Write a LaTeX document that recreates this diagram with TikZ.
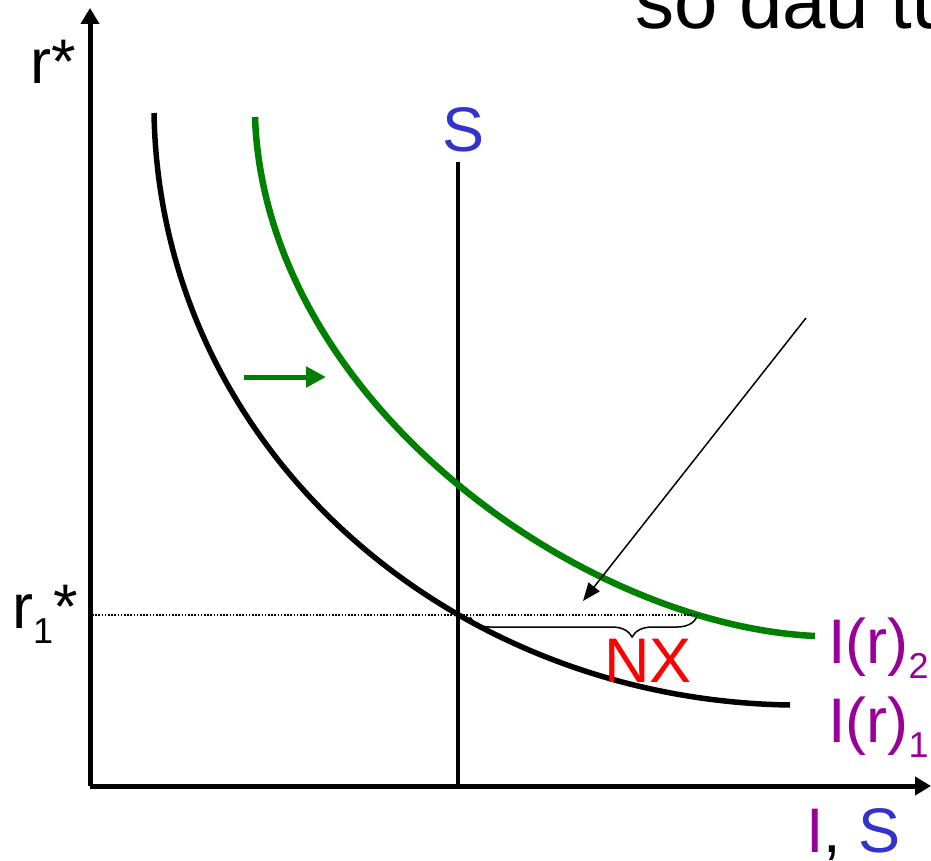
\documentclass[tikz,border=0pt]{standalone}
\usepackage{fontspec}
\setmainfont{Liberation Sans}
\usetikzlibrary{arrows.meta,decorations.pathreplacing}
\definecolor{grn}{RGB}{0,128,0}
\definecolor{purp}{RGB}{153,0,153}
\definecolor{blu}{RGB}{51,51,204}
\newcommand{\sbs}[1]{\raisebox{-15pt}{\fontsize{36}{36}\selectfont #1}}
\begin{document}
\begin{tikzpicture}[x=1pt,y=-1pt,
  lbl/.style={inner sep=0pt,font=\fontsize{63}{63}\selectfont},
  axis/.style={line width=5pt,-{Triangle[length=16pt,width=18pt]}},
  thin/.style={line width=1.5pt}]
\useasboundingbox (0,0) rectangle (931,861);
% axes
\coordinate (O) at (90,786);
\coordinate (ytop) at (90,8);
\coordinate (xend) at (931,786);
\draw[axis] (O) -- (ytop);
\draw[axis] (O) -- (xend);
% S line
\coordinate (Stop) at (458,162);
\coordinate (Sbot) at (458,786);
\draw[line width=4.5pt] (Sbot) -- (Stop);
% curves
\coordinate (c1s) at (154,113);
\coordinate (c1e) at (790,705);
\draw[line width=5.5pt] (c1s) .. controls (160,450) and (450,700) .. (c1e);
\coordinate (c2s) at (255,117);
\coordinate (c2e) at (815,636);
\draw[line width=6.5pt,grn] (c2s) .. controls (265,400) and (580,625) .. (c2e);
% dotted line
\coordinate (d1) at (92,615);
\coordinate (d2) at (697,615);
\draw[line width=1.3pt,dash pattern=on 1.6pt off 1.6pt] (d1) -- (d2);
% brace
\coordinate (b1) at (470,617);
\coordinate (b2) at (697,617);
\draw[thin,decorate,decoration={brace,mirror,amplitude=20pt,aspect=0.714}] (b1) -- (b2);
% green shift arrow
\coordinate (g1) at (244,377);
\coordinate (g2) at (326,377);
\draw[grn,line width=5pt,-{Triangle[length=20pt,width=20pt]}] (g1) -- (g2);
% thin arrow
\coordinate (a1) at (806,318);
\coordinate (a2) at (583,601);
\draw[thin,-{Triangle[length=18pt,width=14pt]}] (a1) -- (a2);
% labels
\node[lbl,anchor=base west] (title) at (635,29) {\fontsize{78}{78}\selectfont so dau tu};
\node[lbl,anchor=base west] (rstar) at (30,84) {r*};
\node[lbl,anchor=base,text=blu] (Slbl) at (464,152) {S};
\node[lbl,anchor=base west] (r1) at (12,628) {r\sbs{1}*};
\node[lbl,anchor=base,text=red] (NX) at (648,682) {NX};
\node[lbl,anchor=base west,text=purp] (I2) at (828,663) {I(r)\sbs{2}};
\node[lbl,anchor=base west,text=purp] (I1) at (828,742) {I(r)\sbs{1}};
\node[lbl,anchor=base west] (IS) at (806,852) {\textcolor{purp}{I}, \textcolor{blu}{S}};
\end{tikzpicture}
\end{document}
